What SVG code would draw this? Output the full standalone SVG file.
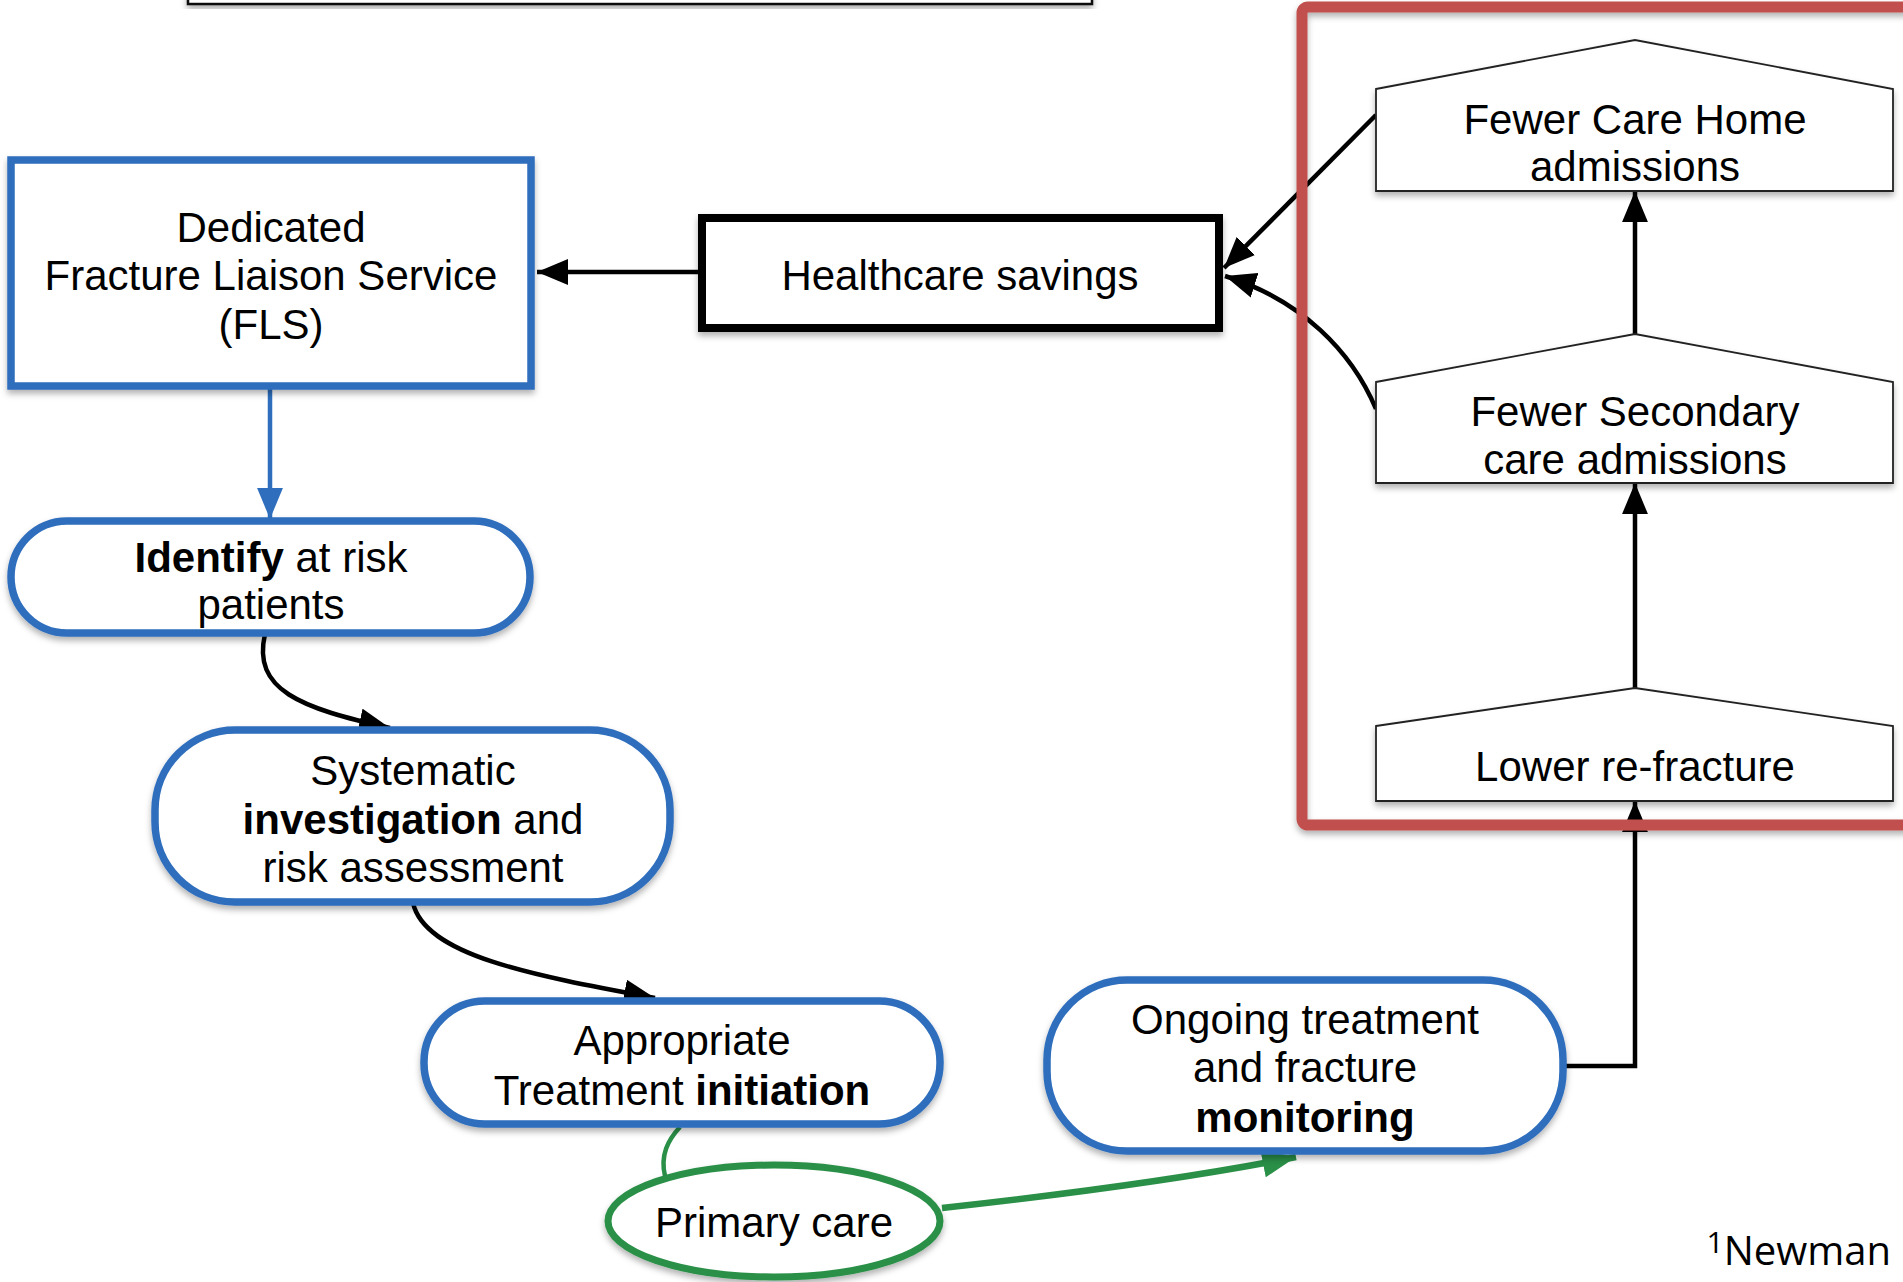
<svg xmlns="http://www.w3.org/2000/svg" width="1903" height="1282" viewBox="0 0 1903 1282">
<style>
text{font-family:"Liberation Sans",Arial,Helvetica,sans-serif;font-size:42px;fill:#000;text-anchor:middle}
.b{font-weight:bold}
.blue{fill:#fff;stroke:#2E6EBD;stroke-width:7.5}
.house{fill:#fff;stroke:#222;stroke-width:1.8}
.conn{fill:none;stroke:#000;stroke-width:4.5}
</style>
<defs>
<filter id="sh" x="-10%" y="-10%" width="120%" height="130%">
<feDropShadow dx="0" dy="4" stdDeviation="3" flood-color="#000" flood-opacity="0.3"/>
</filter>
<marker id="ak" viewBox="0 0 12 10" refX="12" refY="5" markerWidth="31" markerHeight="26" markerUnits="userSpaceOnUse" orient="auto"><path d="M0,0 L12,5 L0,10 z" fill="#000"/></marker>
<marker id="ab" viewBox="0 0 12 10" refX="12" refY="5" markerWidth="31" markerHeight="26" markerUnits="userSpaceOnUse" orient="auto"><path d="M0,0 L12,5 L0,10 z" fill="#2E6EBD"/></marker>
<marker id="ag" viewBox="0 0 12 10" refX="12" refY="5" markerWidth="34" markerHeight="28" markerUnits="userSpaceOnUse" orient="auto"><path d="M0,0 L12,5 L0,10 z" fill="#2A8F47"/></marker>
</defs>
<rect width="1903" height="1282" fill="#fff"/>

<g id="top-box"><rect x="188" y="-20" width="904" height="24" fill="#fff" stroke="#111" stroke-width="2.5" filter="url(#sh)"/></g>

<g id="connectors">
<line class="conn" x1="701" y1="272" x2="537" y2="272" marker-end="url(#ak)"/>
<line x1="270" y1="388" x2="270" y2="519" stroke="#2E6EBD" stroke-width="4.5" marker-end="url(#ab)"/>
<path class="conn" d="M265,634 C252,690 300,708 390,728" marker-end="url(#ak)"/>
<path class="conn" d="M413,903 C425,955 530,975 655,998" marker-end="url(#ak)"/>
<path d="M680,1127 C668,1140 660,1155 665,1176" fill="none" stroke="#2A8F47" stroke-width="4.5"/>
<path d="M942,1208 C1060,1195 1180,1180 1296,1157" fill="none" stroke="#2A8F47" stroke-width="6.5" marker-end="url(#ag)"/>
<path class="conn" d="M1566,1066 L1635,1066 L1635,801" marker-end="url(#ak)"/>
<line class="conn" x1="1635" y1="688" x2="1635" y2="483" marker-end="url(#ak)"/>
<line class="conn" x1="1635" y1="334" x2="1635" y2="191" marker-end="url(#ak)"/>
<line class="conn" x1="1376" y1="115" x2="1224" y2="268" marker-end="url(#ak)"/>
<path class="conn" d="M1376,409 C1352,352 1302,300 1225,276" marker-end="url(#ak)"/>
</g>

<g id="red-frame"><rect x="1302" y="7" width="640" height="818" rx="6" fill="none" stroke="#C0504D" stroke-width="11" filter="url(#sh)"/></g>

<g id="fls">
<rect class="blue" x="11" y="160" width="520" height="226" filter="url(#sh)"/>
<text x="271" y="242">Dedicated</text>
<text x="271" y="290">Fracture Liaison Service</text>
<text x="271" y="339">(FLS)</text>
</g>

<g id="healthcare-savings">
<rect x="702" y="218" width="517" height="110" fill="#fff" stroke="#000" stroke-width="8" filter="url(#sh)"/>
<text x="960" y="290">Healthcare savings</text>
</g>

<g id="care-home">
<path class="house" d="M1376,89 L1635,40 L1893,89 L1893,191 L1376,191 Z" filter="url(#sh)"/>
<text x="1635" y="134">Fewer Care Home</text>
<text x="1635" y="181">admissions</text>
</g>

<g id="secondary-care">
<path class="house" d="M1376,382 L1635,334 L1893,382 L1893,483 L1376,483 Z" filter="url(#sh)"/>
<text x="1635" y="426">Fewer Secondary</text>
<text x="1635" y="474">care admissions</text>
</g>

<g id="re-fracture">
<path class="house" d="M1376,726 L1635,688 L1893,726 L1893,801 L1376,801 Z" filter="url(#sh)"/>
<text x="1635" y="781">Lower re-fracture</text>
</g>

<g id="identify">
<rect class="blue" x="11" y="521" width="519" height="112" rx="56" filter="url(#sh)"/>
<text x="271" y="572"><tspan class="b">Identify</tspan> at risk</text>
<text x="271" y="619">patients</text>
</g>

<g id="systematic">
<rect class="blue" x="155" y="730" width="515" height="172" rx="80" filter="url(#sh)"/>
<text x="413" y="785">Systematic</text>
<text x="413" y="834"><tspan class="b">investigation</tspan> and</text>
<text x="413" y="882">risk assessment</text>
</g>

<g id="appropriate">
<rect class="blue" x="424" y="1001" width="516" height="123" rx="61" filter="url(#sh)"/>
<text x="682" y="1055">Appropriate</text>
<text x="682" y="1105">Treatment <tspan class="b">initiation</tspan></text>
</g>

<g id="ongoing">
<rect class="blue" x="1047" y="980" width="516" height="171" rx="80" filter="url(#sh)"/>
<text x="1305" y="1034">Ongoing treatment</text>
<text x="1305" y="1082">and fracture</text>
<text x="1305" y="1132" class="b">monitoring</text>
</g>

<g id="primary-care">
<ellipse cx="774" cy="1221" rx="166" ry="56" fill="#fff" stroke="#2A8F47" stroke-width="7" filter="url(#sh)"/>
<text x="774" y="1237">Primary care</text>
</g>

<g id="footnote">
<text x="1891" y="1265" style="text-anchor:end;font-family:'Open Sans','Liberation Sans',sans-serif;font-size:40px"><tspan font-size="30" dy="-12">1</tspan><tspan dy="12">Newman</tspan></text>
</g>
</svg>
